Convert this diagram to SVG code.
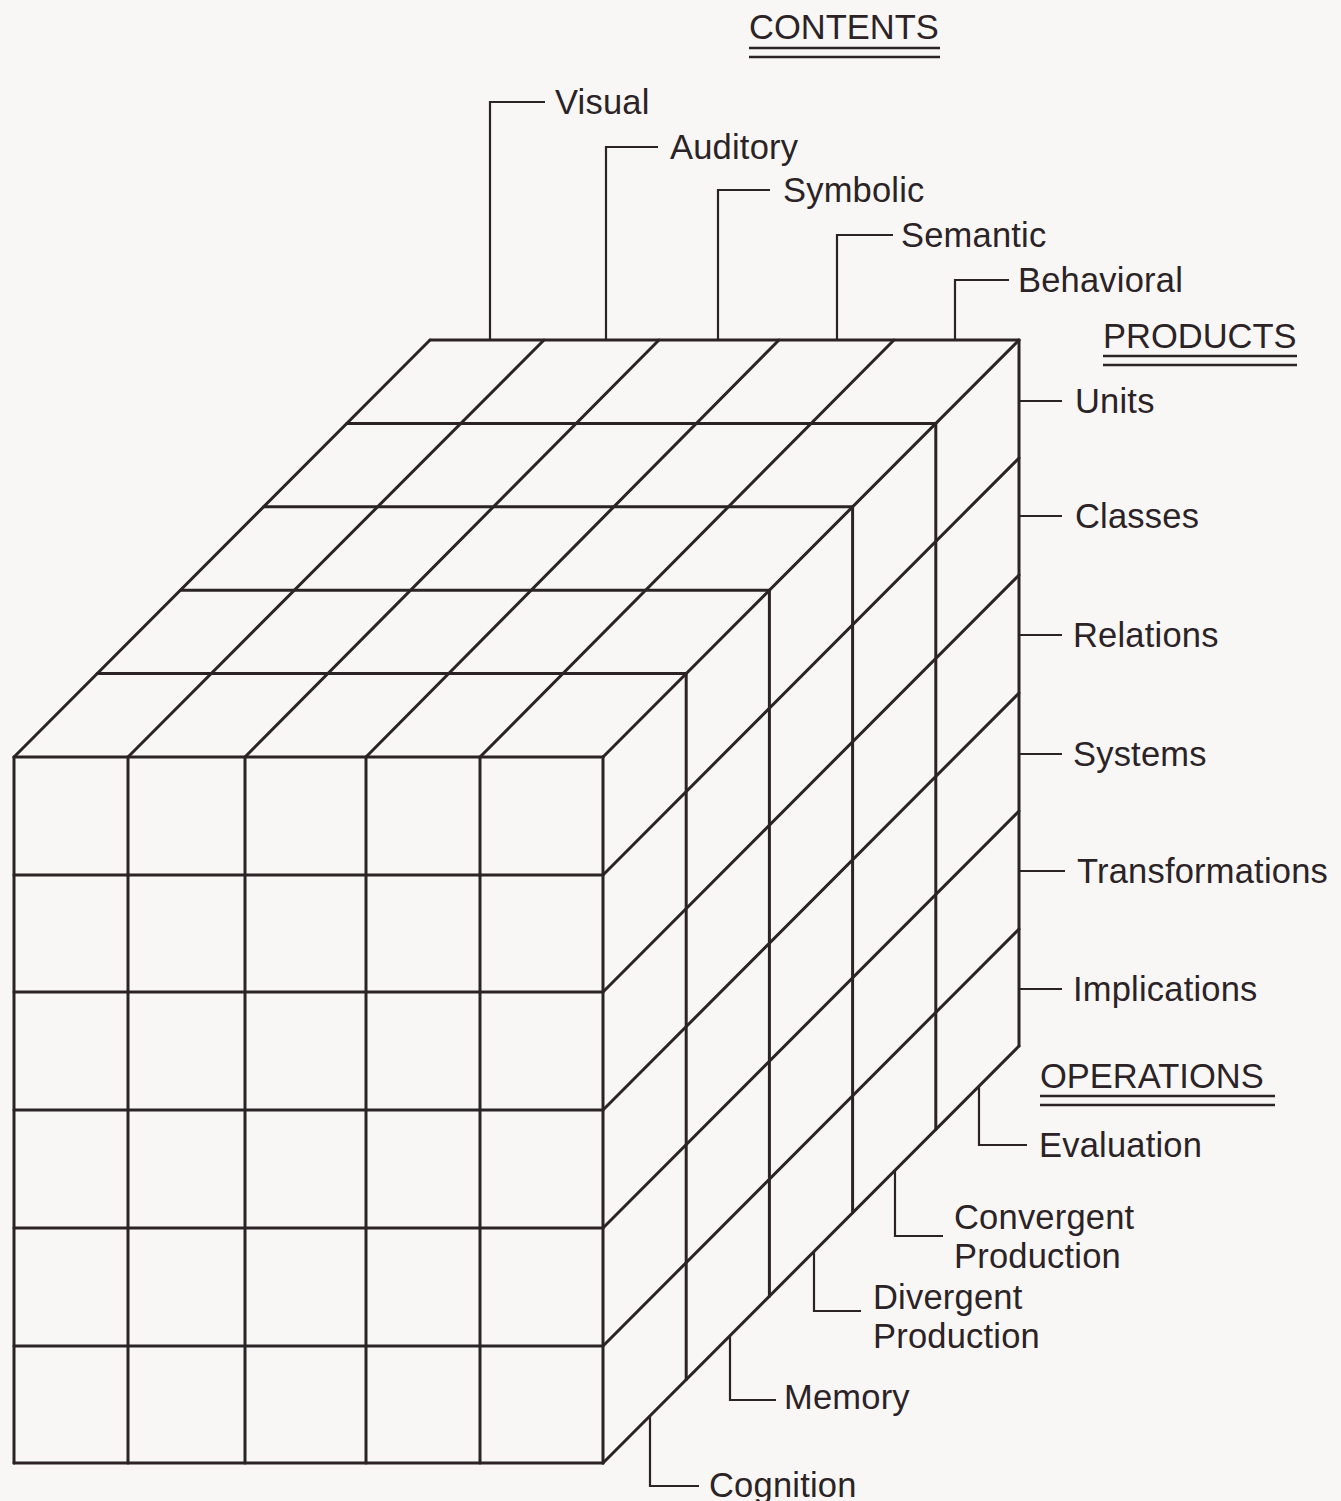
<svg xmlns="http://www.w3.org/2000/svg" width="1341" height="1501" viewBox="0 0 1341 1501">
  <style>
    .bg { fill: #f9f7f6; }
    .cube line { stroke: #2b2325; stroke-width: 3; stroke-linecap: round; fill: none; }
    .lead path { stroke: #2b2325; stroke-width: 2.2; fill: none; stroke-linejoin: miter; }
    .uline { stroke: #2b2325; stroke-width: 2.6; }
    text { font-family: "Liberation Sans", Arial, sans-serif; font-size: 34.5px; letter-spacing: 0.2px; fill: #2b2325; }
    .title { font-size: 34.5px; letter-spacing: 0; }
  </style>

  <rect class="bg" x="0" y="0" width="1341" height="1501"/>

  <!-- The block: 5 contents x 6 products x 5 operations -->
  <g id="cube" class="cube">
    <!-- front face verticals -->
    <line x1="14" y1="757" x2="14" y2="1463"/>
    <line x1="128" y1="757" x2="128" y2="1463"/>
    <line x1="245" y1="757" x2="245" y2="1463"/>
    <line x1="366" y1="757" x2="366" y2="1463"/>
    <line x1="480" y1="757" x2="480" y2="1463"/>
    <line x1="603" y1="757" x2="603" y2="1463"/>
    <!-- front face horizontals -->
    <line x1="14" y1="757" x2="603" y2="757"/>
    <line x1="14" y1="875" x2="603" y2="875"/>
    <line x1="14" y1="992" x2="603" y2="992"/>
    <line x1="14" y1="1110" x2="603" y2="1110"/>
    <line x1="14" y1="1228" x2="603" y2="1228"/>
    <line x1="14" y1="1346" x2="603" y2="1346"/>
    <line x1="14" y1="1463" x2="603" y2="1463"/>
    <!-- top face: rows going back -->
    <line x1="97.2" y1="673.6" x2="686.2" y2="673.6"/>
    <line x1="180.4" y1="590.2" x2="769.4" y2="590.2"/>
    <line x1="263.6" y1="506.8" x2="852.6" y2="506.8"/>
    <line x1="346.8" y1="423.4" x2="935.8" y2="423.4"/>
    <line x1="430" y1="340" x2="1019" y2="340"/>
    <!-- top face: receding edges -->
    <line x1="14" y1="757" x2="430" y2="340"/>
    <line x1="128" y1="757" x2="544" y2="340"/>
    <line x1="245" y1="757" x2="659" y2="340"/>
    <line x1="366" y1="757" x2="779" y2="340"/>
    <line x1="480" y1="757" x2="894" y2="340"/>
    <line x1="603" y1="757" x2="1019" y2="340"/>
    <!-- right face verticals -->
    <line x1="686.2" y1="673.6" x2="686.2" y2="1379.6"/>
    <line x1="769.4" y1="590.2" x2="769.4" y2="1296.2"/>
    <line x1="852.6" y1="506.8" x2="852.6" y2="1212.8"/>
    <line x1="935.8" y1="423.4" x2="935.8" y2="1129.4"/>
    <line x1="1019" y1="340" x2="1019" y2="1046"/>
    <!-- right face receding edges -->
    <line x1="603" y1="875" x2="1019" y2="458"/>
    <line x1="603" y1="992" x2="1019" y2="575"/>
    <line x1="603" y1="1110" x2="1019" y2="693"/>
    <line x1="603" y1="1228" x2="1019" y2="811"/>
    <line x1="603" y1="1346" x2="1019" y2="929"/>
    <line x1="603" y1="1463" x2="1019" y2="1046"/>
  </g>

  <!-- leader lines from the block to the category names -->
  <g id="connectors" class="lead">
    <path d="M490 340 V102 H545"/>
    <path d="M606 340 V147 H658"/>
    <path d="M718 340 V190 H770"/>
    <path d="M837 340 V235 H893"/>
    <path d="M955 340 V280 H1009"/>

    <path d="M1019 401 H1062"/>
    <path d="M1019 516 H1062"/>
    <path d="M1019 635 H1062"/>
    <path d="M1019 754 H1062"/>
    <path d="M1019 871 H1065"/>
    <path d="M1019 989 H1062"/>

    <path d="M979 1086 V1145 H1027"/>
    <path d="M895 1170 V1236 H943"/>
    <path d="M814 1251 V1311 H861"/>
    <path d="M730 1335 V1400 H776"/>
    <path d="M650 1415 V1486 H699"/>
  </g>

  <!-- axis titles -->
  <g id="title-contents">
    <text class="title" x="749" y="39">CONTENTS</text>
    <line class="uline" x1="749" y1="48" x2="940" y2="48"/>
    <line class="uline" x1="749" y1="57" x2="940" y2="57" stroke-width="3.2"/>
  </g>
  <g id="title-products">
    <text class="title" x="1103" y="348">PRODUCTS</text>
    <line class="uline" x1="1103" y1="356" x2="1297" y2="356"/>
    <line class="uline" x1="1103" y1="365" x2="1297" y2="365" stroke-width="3.2"/>
  </g>
  <g id="title-operations">
    <text class="title" x="1040" y="1088">OPERATIONS</text>
    <line class="uline" x1="1040" y1="1096" x2="1275" y2="1096"/>
    <line class="uline" x1="1040" y1="1105" x2="1275" y2="1105" stroke-width="3.2"/>
  </g>

  <!-- contents -->
  <g id="visual"><text x="555" y="114">Visual</text></g>
  <g id="auditory"><text x="670" y="159">Auditory</text></g>
  <g id="symbolic"><text x="783" y="202">Symbolic</text></g>
  <g id="semantic"><text x="901" y="247">Semantic</text></g>
  <g id="behavioral"><text x="1018" y="292">Behavioral</text></g>

  <!-- products -->
  <g id="units"><text x="1075" y="413">Units</text></g>
  <g id="classes"><text x="1075" y="528">Classes</text></g>
  <g id="relations"><text x="1073" y="647">Relations</text></g>
  <g id="systems"><text x="1073" y="766">Systems</text></g>
  <g id="transformations"><text x="1077" y="883">Transformations</text></g>
  <g id="implications"><text x="1073" y="1001">Implications</text></g>

  <!-- operations -->
  <g id="evaluation"><text x="1039" y="1157">Evaluation</text></g>
  <g id="convergent-production"><text x="954" y="1229">Convergent</text><text x="954" y="1268">Production</text></g>
  <g id="divergent-production"><text x="873" y="1309">Divergent</text><text x="873" y="1348">Production</text></g>
  <g id="memory"><text x="784" y="1409">Memory</text></g>
  <g id="cognition"><text x="709" y="1497">Cognition</text></g>
</svg>
